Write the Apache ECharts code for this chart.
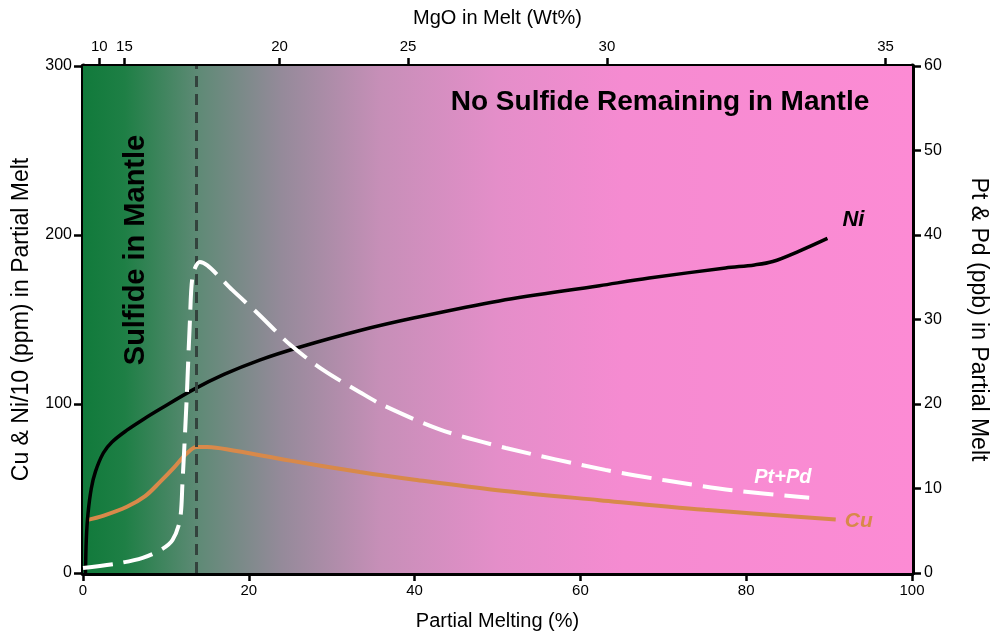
<!DOCTYPE html>
<html>
<head>
<meta charset="utf-8">
<script src="https://cdn.jsdelivr.net/npm/echarts@6/dist/echarts.min.js"></script>
<style>
html,body{margin:0;padding:0;background:#fff;}
#chart{width:998px;height:636px;}
</style>
</head>
<body>
<div id="chart"></div>
<script>
// Partial melting (%) and values
var niData = [[0.3,0],[0.4,20],[0.6,35],[1.0,50],[1.5,60],[2.45,71],[3.5,77.5],[5.3,84.5],[7.3,91],[9.3,97],[13.3,108.5],[17,117.5],[21.3,126],[26.1,133.6],[33.4,143.5],[40,151],[50.2,161],[62.3,170],[68.3,174.5],[77.5,180.5],[81,182.3],[83.2,184.3],[86.4,190.5],[89.8,198]];
var cuData = [[0.44,31.3],[2.5,34],[5.3,39.2],[7.5,45.5],[9.3,53.9],[11,62.5],[12.5,70.7],[13.7,74.6],[15,74.5],[17.3,73.2],[25,66.5],[33.4,59.8],[40,55.2],[50,49],[62.3,43.1],[75,37.4],[90.8,31.7]];
var ptpdData = [[0,0.6],[4,1.1],[7.2,1.8],[9.5,2.8],[10.8,3.9],[11.7,6.3],[12.0,10.7],[12.5,20.5],[12.9,29.9],[13.25,35.3],[14.1,36.8],[15,36.4],[16.5,35],[18,33.5],[21,30.8],[25,27],[29,24],[33.4,21.4],[36.1,19.9],[43,17],[51,14.8],[63,12.2],[70,11],[78.3,9.8],[87.6,8.9]];
var sulfideLimit = 13.7;
var mgoTickLabels = [10,15,20,25,30,35];
var mgoTickAtMelt = [1.96,5.0,23.7,39.2,63.2,96.8];

var FONT = "'Liberation Sans', Arial, sans-serif";
var chart = echarts.init(document.getElementById('chart'), null, {renderer:'canvas'});

var axisLineStyle = {color:'#000', width:5};
var tickStyle = {color:'#000', width:2.5};
var labelStyle = {color:'#000', fontSize:15, fontFamily:FONT};

var option = {
  animation:false,
  backgroundColor:'#fff',
  grid:{left:83, right:85, top:66, bottom:63, containLabel:false},
  xAxis:[
    {type:'value', position:'bottom', min:0, max:100, interval:20,
     name:'Partial Melting (%)', nameLocation:'middle', nameGap:38,
     nameTextStyle:{color:'#000', fontSize:20, fontFamily:FONT},
     axisLine:{show:true, onZero:false, lineStyle:axisLineStyle},
     axisTick:{show:true, length:8, lineStyle:tickStyle},
     axisLabel:Object.assign({margin:10}, labelStyle),
     splitLine:{show:false}},
    {type:'value', position:'top', min:0, max:100,
     name:'MgO in Melt (Wt%)', nameLocation:'middle', nameGap:38,
     nameTextStyle:{color:'#000', fontSize:20, fontFamily:FONT},
     axisLine:{show:true, onZero:false, lineStyle:axisLineStyle},
     axisTick:{show:true, length:8, lineStyle:tickStyle, customValues:mgoTickAtMelt},
     axisLabel:Object.assign({margin:12, customValues:mgoTickAtMelt, formatter:function(v){
        var i = mgoTickAtMelt.indexOf(v); return i>=0 ? String(mgoTickLabels[i]) : '';}}, labelStyle),
     splitLine:{show:false}}
  ],
  yAxis:[
    {type:'value', position:'left', min:0, max:300, interval:100,
     name:'Cu & Ni/10 (ppm) in Partial Melt', nameLocation:'middle', nameGap:50, nameRotate:90,
     nameTextStyle:{color:'#000', fontSize:23, fontFamily:FONT},
     axisLine:{show:true, onZero:false, lineStyle:axisLineStyle},
     axisTick:{show:true, length:9, lineStyle:tickStyle},
     axisLabel:Object.assign({margin:11}, labelStyle, {fontSize:16}),
     splitLine:{show:false}},
    {type:'value', position:'right', min:0, max:60, interval:10,
     name:'Pt & Pd (ppb) in Partial Melt', nameLocation:'middle', nameGap:55, nameRotate:-90,
     nameTextStyle:{color:'#000', fontSize:23, fontFamily:FONT},
     axisLine:{show:true, onZero:false, lineStyle:axisLineStyle},
     axisTick:{show:true, length:9, lineStyle:tickStyle},
     axisLabel:Object.assign({margin:12}, labelStyle, {fontSize:16}),
     splitLine:{show:false}}
  ],
  graphic:[
    {type:'text', x:660, y:102, z:10, style:{text:'No Sulfide Remaining in Mantle', fill:'#000', align:'center', verticalAlign:'middle', font:"bold 28px 'Liberation Sans', Arial, sans-serif"}},
    {type:'text', x:136, y:250, rotation:Math.PI/2, z:10, style:{text:'Sulfide in Mantle', fill:'#000', align:'center', verticalAlign:'middle', font:"bold 29px 'Liberation Sans', Arial, sans-serif"}}
  ],
  series:[
    {type:'line', name:'bg', xAxisIndex:0, yAxisIndex:0, data:[], silent:true, z:0,
     markArea:{silent:true, itemStyle:{color:{type:'linear', x:0, y:0, x2:1, y2:0, colorStops:[
        {offset:0, color:'#117a3b'},{offset:0.05, color:'#1e7f45'},{offset:0.14, color:'#5f8a76'},
        {offset:0.24, color:'#958a9a'},{offset:0.36, color:'#c78fb8'},{offset:0.5, color:'#e48ec9'},
        {offset:0.65, color:'#f58bd1'},{offset:1, color:'#fc8bd4'}]}},
        data:[[{xAxis:0, yAxis:0},{xAxis:100, yAxis:300}]]},
     markLine:{silent:true, symbol:['none','none'], label:{show:false},
        lineStyle:{color:'#33433d', width:3, type:[11,7]},
        data:[{xAxis:sulfideLimit}]}},
    {type:'line', name:'Cu', xAxisIndex:0, yAxisIndex:0, data:cuData, smooth:0.35, showSymbol:false, z:3,
     lineStyle:{color:'#d8894a', width:4}, itemStyle:{color:'#d8894a'},
     endLabel:{show:true, formatter:'Cu', offset:[1,2], color:'#d8894a', fontSize:21, fontWeight:'bold', fontStyle:'italic', fontFamily:FONT}},
    {type:'line', name:'Ni', xAxisIndex:0, yAxisIndex:0, data:niData, smooth:0.35, showSymbol:false, z:4,
     lineStyle:{color:'#000', width:3.5}, itemStyle:{color:'#000'},
     endLabel:{show:true, formatter:'Ni', offset:[7,-18], color:'#000', fontSize:22, fontWeight:'bold', fontStyle:'italic', fontFamily:FONT}},
    {type:'line', name:'Pt+Pd', xAxisIndex:0, yAxisIndex:1, data:ptpdData, smooth:0.3, showSymbol:false, z:5,
     lineStyle:{color:'#fff', width:4, type:[30,11]}, itemStyle:{color:'#fff'},
     endLabel:{show:true, formatter:'Pt+Pd', offset:[-63,-20], color:'#fff', fontSize:20, fontWeight:'bold', fontStyle:'italic', fontFamily:FONT}}
  ]
};
chart.setOption(option);
</script>
</body>
</html>
